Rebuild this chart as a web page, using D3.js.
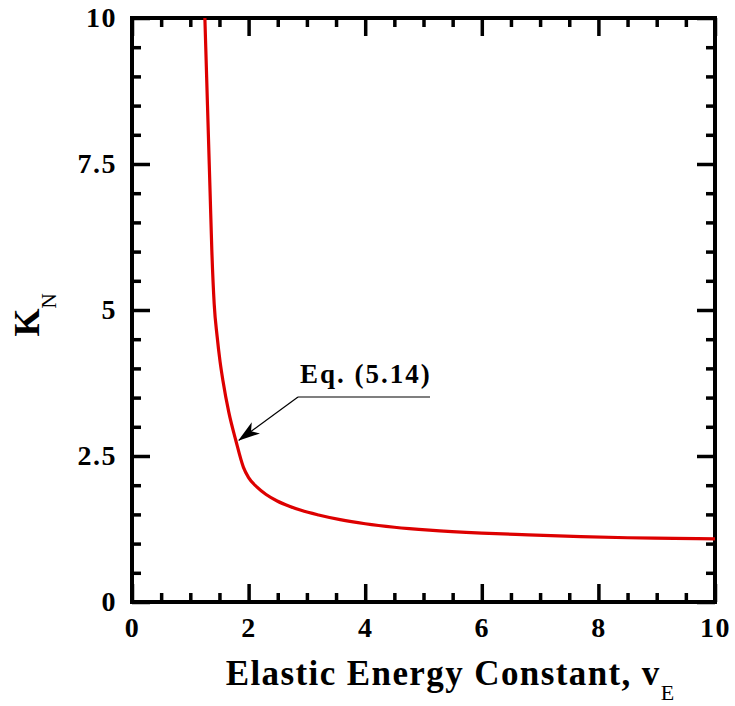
<!DOCTYPE html>
<html>
<head>
<meta charset="utf-8">
<script src="https://cdn.jsdelivr.net/npm/d3@7/dist/d3.min.js"></script>
<style>
  html, body { margin: 0; padding: 0; background: #fff; }
  svg { display: block; }
  text { font-family: "Liberation Serif", "Times New Roman", serif; fill: #000; }
</style>
</head>
<body>
<svg id="chart" width="735" height="706"></svg>
<script>
// K_N as a function of the elastic energy constant v_E
const vE = [1.25, 1.28, 1.31, 1.34, 1.37, 1.41, 1.46, 1.51, 1.56, 1.66, 1.78, 1.91, 2.0, 2.14, 2.3, 2.49, 2.7, 2.9, 3.2, 3.57, 4.0, 4.5, 5.1, 6.0, 6.8, 7.7, 8.5, 9.3, 10];
const kN = [10, 9.0, 8.0, 7.0, 6.0, 5.1, 4.55, 4.12, 3.79, 3.25, 2.77, 2.31, 2.13, 1.97, 1.84, 1.73, 1.64, 1.57, 1.49, 1.41, 1.34, 1.28, 1.23, 1.18, 1.15, 1.12, 1.10, 1.09, 1.08];

const xTicks = [0, 2, 4, 6, 8, 10];
const yTicks = [0, 2.5, 5, 7.5, 10];
const yTickLabels = ["0", "2.5", "5", "7.5", "10"];

const xMinor = d3.range(0, 10.01, 0.5).filter(v => !xTicks.includes(v));
const yMinor = d3.range(0, 10.01, 0.5).filter(v => !yTicks.includes(v));

const annotation = "Eq. (5.14)";
const annotationAt = { v: 1.80, k: 2.77 };

const svg = d3.select("#chart");
const m = { left: 132, right: 20, top: 18, bottom: 104 };
const W = 735, H = 706;

const x = d3.scaleLinear().domain([0, 10]).range([m.left, W - m.right]);
const y = d3.scaleLinear().domain([0, 10]).range([H - m.bottom, m.top]);

const major = 18, minor = 9;

function styleAxis(g) {
  g.select(".domain").remove();
  g.selectAll(".tick line").attr("stroke", "#000").attr("stroke-width", 3.5);
  g.selectAll(".tick text")
    .style("font-size", "28px").style("font-weight", "bold")
    .style("letter-spacing", "1.5px")
    .style("font-family", '"Liberation Serif", "Times New Roman", serif');
}

// major ticks with labels (bottom and left), pointing inward
svg.append("g").attr("transform", `translate(0,${y(0)})`)
  .call(d3.axisBottom(x).tickValues(xTicks).tickSize(-major).tickPadding(15).tickFormat(d3.format("d")))
  .call(styleAxis);
svg.append("g").attr("transform", `translate(${x(0)},0)`)
  .call(d3.axisLeft(y).tickValues(yTicks).tickSize(-major).tickPadding(15).tickFormat((d, i) => yTickLabels[i]))
  .call(styleAxis);
// major ticks on top and right
svg.append("g").attr("transform", `translate(0,${y(10)})`)
  .call(d3.axisTop(x).tickValues(xTicks).tickSize(-major).tickFormat(""))
  .call(styleAxis);
svg.append("g").attr("transform", `translate(${x(10)},0)`)
  .call(d3.axisRight(y).tickValues(yTicks).tickSize(-major).tickFormat(""))
  .call(styleAxis);
// minor ticks on all four sides
svg.append("g").attr("transform", `translate(0,${y(0)})`)
  .call(d3.axisBottom(x).tickValues(xMinor).tickSize(-minor).tickFormat("")).call(styleAxis);
svg.append("g").attr("transform", `translate(0,${y(10)})`)
  .call(d3.axisTop(x).tickValues(xMinor).tickSize(-minor).tickFormat("")).call(styleAxis);
svg.append("g").attr("transform", `translate(${x(0)},0)`)
  .call(d3.axisLeft(y).tickValues(yMinor).tickSize(-minor).tickFormat("")).call(styleAxis);
svg.append("g").attr("transform", `translate(${x(10)},0)`)
  .call(d3.axisRight(y).tickValues(yMinor).tickSize(-minor).tickFormat("")).call(styleAxis);

// frame
svg.append("rect")
  .attr("x", x(0)).attr("y", y(10))
  .attr("width", x(10) - x(0)).attr("height", y(0) - y(10))
  .attr("fill", "none").attr("stroke", "#000").attr("stroke-width", 4);

// curve
const pts = vE.map((v, i) => [v, kN[i]]);
svg.append("path")
  .datum(pts)
  .attr("fill", "none")
  .attr("stroke", "#dd0000")
  .attr("stroke-width", 3.2)
  .attr("stroke-linejoin", "round")
  .attr("d", d3.line().x(d => x(d[0])).y(d => y(d[1])).curve(d3.curveMonotoneX));

// annotation: label, underline and leader with arrowhead
svg.append("defs").append("marker")
  .attr("id", "arrow").attr("viewBox", "0 0 22 14")
  .attr("refX", 21).attr("refY", 7)
  .attr("markerWidth", 22).attr("markerHeight", 14)
  .attr("markerUnits", "userSpaceOnUse")
  .attr("orient", "auto")
  .append("path").attr("d", "M0,0 L22,7 L0,14 L6,7 Z").attr("fill", "#000");

const lx = 298, ly = 397;
svg.append("line")
  .attr("x1", lx).attr("y1", ly).attr("x2", 430).attr("y2", ly)
  .attr("stroke", "#000").attr("stroke-width", 1.2);
svg.append("line")
  .attr("x1", lx).attr("y1", ly)
  .attr("x2", x(annotationAt.v) + 2).attr("y2", y(annotationAt.k))
  .attr("stroke", "#000").attr("stroke-width", 1.2)
  .attr("marker-end", "url(#arrow)");
svg.append("text")
  .attr("x", 300).attr("y", 383)
  .style("font-size", "27px").style("font-weight", "bold")
  .style("letter-spacing", "2px")
  .text(annotation);

// axis titles
const xt = svg.append("text")
  .attr("x", 450).attr("y", 685)
  .attr("text-anchor", "middle")
  .style("font-size", "35px").style("font-weight", "bold")
  .style("letter-spacing", "1.4px");
xt.append("tspan").text("Elastic Energy Constant, v");
xt.append("tspan").attr("dy", 15).style("font-size", "22px").style("font-weight", "normal").style("letter-spacing", "0px").text("E");

const yt = svg.append("text")
  .attr("transform", `translate(39,315) rotate(-90)`)
  .attr("text-anchor", "middle")
  .style("font-size", "36px").style("font-weight", "bold");
yt.append("tspan").text("K");
yt.append("tspan").attr("dy", 17).style("font-size", "21px").style("font-weight", "normal").text("N");
</script>
</body>
</html>
